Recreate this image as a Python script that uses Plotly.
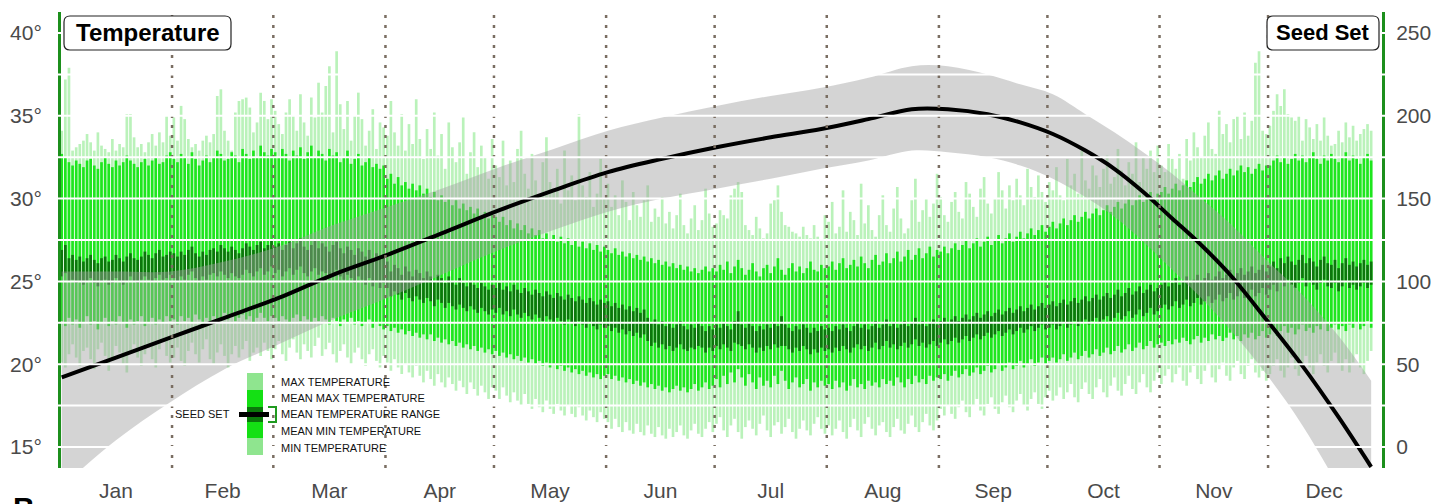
import plotly.graph_objects as go

# ---------------- data ----------------
month_names = ["Jan", "Feb", "Mar", "Apr", "May", "Jun", "Jul", "Aug", "Sep", "Oct", "Nov", "Dec"]
month_days = [31, 28, 31, 30, 31, 30, 31, 31, 30, 31, 30, 31]

# daily maximum temperature (deg C), one list per month (data stop a couple of days before year end)
tmax = [
    [34.1, 37.2, 37.9, 32.9, 33.1, 33.3, 33.5, 33.9, 33.4, 32.9, 34.0, 33.2, 33.0, 32.8, 33.6, 32.9, 33.3, 33.1, 35.1, 35.1,
     33.7, 33.1, 33.3, 32.8, 33.4, 33.9, 33.2, 34.0, 33.4, 35.0, 33.8],
    [34.9, 33.5, 35.6, 34.8, 33.6, 33.1, 33.3, 32.9, 33.5, 33.8, 33.4, 33.9, 36.2, 36.6, 34.1, 33.5, 32.9, 35.2, 35.9, 36.0,
     36.1, 35.5, 34.0, 34.6, 36.4, 35.9, 34.8, 36.0],
    [35.3, 34.5, 33.9, 35.2, 36.0, 35.0, 34.1, 36.3, 34.6, 33.8, 36.1, 34.9, 37.0, 35.2, 36.8, 38.0, 34.0, 38.9, 35.7, 34.2,
     35.9, 33.5, 35.0, 36.4, 34.8, 33.2, 34.1, 35.4, 33.0, 34.6, 34.3],
    [33.8, 35.9, 34.0, 33.2, 35.1, 32.9, 34.5, 33.3, 36.0, 33.6, 32.4, 34.2, 33.0, 35.2, 32.6, 33.9, 31.8, 34.6, 33.1, 32.2,
     33.4, 34.9, 31.5, 32.8, 34.0, 31.9, 33.2, 32.5, 31.2, 33.6],
    [32.0, 31.3, 33.5, 30.8, 32.3, 31.0, 33.0, 34.1, 31.5, 30.6, 32.7, 31.1, 30.2, 32.2, 33.7, 31.0, 30.4, 31.8, 29.7, 32.9,
     30.5, 31.4, 29.9, 35.1, 30.8, 30.1, 31.6, 29.5, 30.3, 32.4, 30.0],
    [30.9, 29.5, 30.2, 29.0, 31.1, 29.8, 28.7, 30.4, 29.6, 28.9, 29.9, 30.8, 28.6, 29.4, 28.9, 30.1, 28.5, 29.2, 28.2, 29.0,
     30.3, 28.4, 27.9, 28.8, 29.6, 28.1, 28.7, 30.6, 29.1, 28.3],
    [28.5, 29.3, 29.0, 28.8, 30.2, 30.6, 31.0, 30.4, 28.4, 28.1, 27.8, 28.9, 28.2, 27.6, 27.9, 29.7, 29.9, 30.8, 29.2, 28.4,
     28.3, 28.0, 27.9, 27.7, 28.3, 27.8, 27.6, 28.4, 27.7, 27.5, 29.0],
    [28.6, 29.8, 27.9, 28.3, 30.5, 28.0, 29.2, 28.7, 27.8, 30.9, 28.5, 29.6, 28.1, 27.7, 29.0, 30.2, 28.4, 28.0, 29.4, 30.7,
     28.8, 27.9, 28.2, 29.9, 31.2, 28.6, 29.3, 30.0, 28.9, 29.7, 31.5],
    [30.1, 29.0, 28.6, 29.8, 30.4, 29.2, 28.8, 31.0, 30.3, 29.5, 28.9, 30.6, 31.3, 29.7, 29.1, 30.0, 31.6, 30.5, 29.4, 30.8,
     29.9, 31.2, 30.2, 29.6, 31.8, 30.7, 30.1, 31.4, 30.4, 29.8],
    [31.0, 30.5, 31.9, 30.2, 29.9, 32.4, 30.8, 31.5, 30.3, 32.9, 31.1, 30.6, 32.0, 31.4, 30.7, 31.8, 32.6, 30.9, 31.3, 33.0,
     31.7, 30.8, 32.2, 31.5, 33.4, 31.0, 32.5, 31.8, 32.9, 31.6, 33.2],
    [32.0, 31.6, 33.3, 32.4, 31.8, 32.7, 31.2, 33.6, 32.3, 34.0, 33.1, 32.5, 33.8, 34.6, 33.0, 32.7, 35.3, 33.9, 34.5, 33.4,
     34.8, 35.0, 33.6, 35.2, 33.8, 34.7, 38.2, 38.9, 34.1, 33.9],
    [34.4, 35.3, 36.3, 35.6, 36.6, 35.1, 34.9, 34.7, 35.0, 33.5, 34.8, 34.3, 33.6, 34.5, 33.5, 34.9, 33.8, 33.2, 33.3, 34.1,
     33.4, 34.6, 33.7, 34.4, 33.5, 33.9, 34.2, 34.5, 34.1],
]

# mean maximum temperature
mean_max = [
    [32.7, 32.5, 32.2, 32.0, 32.3, 32.1, 31.9, 32.3, 32.4, 32.0, 31.8, 32.2, 32.5, 32.1, 31.9, 32.3, 32.0, 32.2, 32.6, 32.3,
     32.1, 31.9, 32.2, 32.4, 32.0, 32.3, 32.5, 32.1, 32.2, 32.6, 32.8],
    [32.4, 32.2, 32.7, 32.5, 32.1, 32.8, 32.4, 32.0, 32.3, 32.6, 32.2, 32.5, 32.9, 32.7, 32.3, 32.4, 32.8, 32.6, 32.2, 33.0,
     32.7, 32.4, 32.9, 32.5, 33.2, 32.8, 32.6, 33.0],
    [32.8, 32.5, 33.0, 32.7, 32.3, 32.9, 32.6, 33.1, 32.4, 32.8, 33.2, 32.5, 32.9, 32.7, 32.3, 33.0, 32.6, 32.8, 32.2, 32.5,
     32.9, 32.1, 32.4, 32.7, 32.0, 32.2, 32.5, 31.9, 32.1, 31.8, 32.0],
    [31.2, 31.5, 30.9, 31.3, 30.8, 31.0, 30.6, 30.9, 30.5, 30.8, 30.3, 30.6, 30.1, 30.4, 29.9, 30.2, 29.8, 30.0, 29.6, 29.9,
     29.4, 29.7, 29.3, 29.5, 29.1, 29.4, 28.9, 29.2, 28.8, 29.0],
    [28.9, 28.6, 28.9, 28.4, 28.7, 28.2, 28.5, 28.1, 28.4, 27.9, 28.2, 27.8, 28.1, 27.6, 27.9, 27.5, 27.8, 27.4, 27.7, 27.3,
     27.6, 27.2, 27.5, 27.1, 27.4, 27.0, 27.3, 26.9, 27.2, 26.8, 27.1],
    [26.9, 26.7, 27.0, 26.6, 26.8, 26.5, 26.7, 26.4, 26.6, 26.3, 26.5, 26.2, 26.4, 26.1, 26.3, 26.0, 26.2, 25.9, 26.1, 25.8,
     26.0, 25.7, 25.9, 25.6, 25.8, 25.5, 25.7, 25.9, 25.6, 25.8],
    [25.6, 26.0, 25.7, 26.2, 25.5, 25.9, 26.3, 25.8, 25.4, 25.7, 26.1, 25.6, 25.3, 25.8, 26.0, 25.5, 25.9, 26.4, 25.7, 25.4,
     25.8, 26.1, 25.6, 25.9, 25.5, 25.8, 26.2, 25.7, 25.6, 26.0, 25.8],
    [25.9, 26.2, 25.7, 26.1, 26.4, 25.8, 26.0, 26.3, 25.9, 26.5, 26.1, 25.8, 26.3, 26.6, 26.0, 26.2, 26.7, 26.1, 26.4, 26.8,
     26.2, 26.5, 26.9, 26.3, 26.6, 27.0, 26.4, 26.7, 27.1, 26.5, 26.9],
    [26.8, 27.1, 26.7, 27.0, 27.3, 26.9, 27.2, 27.5, 27.0, 27.3, 27.6, 27.1, 27.4, 27.7, 27.2, 27.5, 27.8, 27.3, 27.6, 27.9,
     27.4, 27.7, 28.0, 27.6, 27.9, 28.2, 27.8, 28.1, 28.4, 28.0],
    [28.3, 28.6, 28.2, 28.5, 28.8, 28.4, 28.7, 29.0, 28.6, 28.9, 29.2, 28.8, 29.1, 29.4, 29.0, 29.3, 29.6, 29.2, 29.5, 29.8,
     29.4, 29.7, 30.0, 29.6, 29.9, 30.2, 29.8, 30.1, 30.4, 30.0, 30.3],
    [30.4, 30.7, 30.3, 30.6, 30.9, 30.5, 30.8, 31.1, 30.7, 31.0, 31.3, 30.9, 31.2, 31.5, 31.1, 31.4, 31.7, 31.2, 31.5, 31.8,
     31.4, 31.7, 32.0, 31.6, 31.9, 31.5, 31.8, 32.1, 31.7, 32.0],
    [32.0, 32.3, 32.6, 32.2, 32.5, 32.1, 32.4, 32.7, 32.3, 32.6, 32.2, 32.5, 32.8, 32.4, 32.1, 32.6, 32.3, 32.7, 32.4, 32.2,
     32.5, 32.8, 32.3, 32.6, 32.4, 32.1, 32.5, 32.7, 32.3],
]

# mean temperature range: upper and lower limit
range_hi = [
    [26.9, 27.2, 26.4, 26.6, 26.3, 26.5, 26.2, 26.4, 26.6, 26.3, 26.1, 26.4, 26.5, 26.2, 26.3, 26.6, 26.4, 26.2, 26.5, 26.7,
     26.4, 26.3, 26.5, 26.8, 26.6, 26.4, 26.7, 26.9, 26.5, 26.6, 26.8],
    [26.7, 26.5, 26.8, 26.6, 26.9, 27.1, 26.7, 26.5, 26.8, 26.6, 26.9, 27.0, 26.8, 27.2, 27.0, 26.8, 27.1, 26.9, 26.7, 27.0,
     27.3, 27.1, 26.9, 27.2, 27.4, 27.0, 27.2, 27.5],
    [27.1, 27.3, 26.9, 27.2, 27.4, 27.0, 27.3, 27.6, 27.1, 26.9, 27.2, 27.5, 27.0, 27.3, 27.1, 26.8, 27.2, 27.4, 27.0, 26.7,
     27.1, 26.9, 26.6, 27.0, 26.8, 26.5, 26.9, 26.4, 26.7, 26.3, 26.6],
    [26.2, 25.6, 26.0, 25.8, 25.4, 25.9, 25.6, 25.3, 25.7, 25.5, 25.2, 25.6, 25.3, 25.0, 25.4, 25.2, 24.9, 25.3, 25.0, 24.8,
     25.2, 24.9, 24.7, 25.0, 24.8, 24.6, 24.9, 24.7, 24.5, 24.8],
    [24.6, 24.9, 24.5, 24.7, 24.4, 24.8, 24.5, 24.3, 24.6, 24.4, 24.2, 24.5, 24.3, 24.1, 24.4, 24.2, 24.0, 24.3, 24.1, 23.9,
     24.2, 24.0, 23.8, 24.1, 23.9, 23.7, 24.0, 23.8, 23.6, 23.9, 23.7],
    [23.8, 23.5, 23.7, 23.4, 23.6, 23.3, 23.5, 23.2, 23.4, 23.1, 23.3, 22.8, 22.5, 22.7, 22.4, 22.6, 22.3, 22.5, 22.2, 22.4,
     22.6, 22.3, 22.1, 22.4, 22.2, 22.5, 22.3, 22.0, 22.3, 22.1],
    [22.4, 22.2, 22.5, 22.3, 22.1, 22.6, 23.2, 22.4, 22.2, 22.5, 22.3, 22.0, 22.3, 22.1, 22.4, 22.2, 22.5, 22.3, 22.9, 22.4,
     22.2, 22.0, 22.3, 22.1, 22.4, 22.2, 21.9, 22.2, 22.0, 22.3, 22.1],
    [22.2, 22.0, 22.3, 22.1, 22.4, 22.2, 22.0, 22.3, 22.5, 22.2, 22.4, 22.1, 22.3, 22.6, 22.2, 22.4, 22.7, 22.3, 22.5, 22.2,
     22.4, 22.6, 22.3, 22.5, 22.8, 22.4, 22.6, 22.3, 22.5, 22.7, 22.4],
    [22.6, 22.8, 22.5, 22.7, 22.9, 22.6, 22.8, 23.0, 22.7, 22.9, 23.1, 22.8, 23.0, 23.2, 22.9, 23.1, 23.3, 23.0, 23.2, 23.4,
     23.1, 23.3, 23.5, 23.2, 23.4, 23.6, 23.3, 23.5, 23.7, 23.4],
    [23.6, 23.8, 23.5, 23.7, 23.9, 23.6, 23.8, 24.0, 23.7, 23.9, 24.1, 23.8, 24.0, 24.2, 23.9, 24.1, 24.3, 24.0, 24.2, 24.5,
     24.1, 24.3, 24.6, 24.2, 24.4, 24.7, 24.3, 24.5, 24.8, 24.4, 24.6],
    [24.8, 25.0, 24.7, 24.9, 25.2, 24.8, 25.0, 25.3, 24.9, 25.1, 25.4, 25.0, 25.2, 25.5, 25.1, 25.3, 25.6, 25.2, 25.4, 25.7,
     25.3, 25.5, 25.8, 25.4, 25.6, 25.9, 25.5, 25.7, 26.0, 25.6],
    [25.9, 26.2, 25.8, 26.4, 26.1, 26.5, 26.2, 26.0, 26.3, 26.6, 26.1, 26.4, 26.2, 25.9, 26.3, 26.5, 26.1, 26.0, 26.3, 25.8,
     26.1, 26.4, 26.0, 26.2, 25.9, 26.1, 26.3, 26.0, 26.2],
]
range_lo = [
    [25.3, 25.5, 25.0, 25.1, 24.9, 25.0, 24.8, 25.0, 25.2, 24.9, 24.7, 25.0, 25.1, 24.8, 24.9, 25.2, 25.0, 24.8, 25.0, 25.3,
     25.0, 24.9, 25.1, 25.3, 25.1, 25.0, 25.2, 25.4, 25.1, 25.2, 25.4],
    [25.2, 25.0, 25.3, 25.1, 25.4, 25.6, 25.2, 25.0, 25.3, 25.1, 25.4, 25.5, 25.3, 25.6, 25.4, 25.2, 25.5, 25.3, 25.2, 25.4,
     25.7, 25.5, 25.3, 25.6, 25.8, 25.4, 25.6, 25.9],
    [25.5, 25.7, 25.3, 25.6, 25.8, 25.4, 25.7, 25.9, 25.5, 25.3, 25.6, 25.8, 25.4, 25.6, 25.5, 25.2, 25.5, 25.7, 25.3, 25.1,
     25.4, 25.2, 24.9, 25.3, 25.1, 24.8, 25.2, 24.7, 25.0, 24.6, 24.9],
    [24.6, 24.1, 24.4, 24.2, 23.9, 24.3, 24.0, 23.8, 24.1, 23.9, 23.7, 24.0, 23.8, 23.5, 23.9, 23.7, 23.4, 23.7, 23.5, 23.3,
     23.6, 23.4, 23.2, 23.5, 23.3, 23.1, 23.4, 23.2, 23.0, 23.3],
    [23.1, 23.4, 23.0, 23.2, 22.9, 23.3, 23.0, 22.8, 23.1, 22.9, 22.7, 23.0, 22.8, 22.6, 22.9, 22.7, 22.5, 22.8, 22.6, 22.4,
     22.7, 22.5, 22.3, 22.6, 22.4, 22.2, 22.5, 22.3, 22.1, 22.4, 22.2],
    [22.3, 22.0, 22.2, 21.9, 22.1, 21.8, 22.0, 21.7, 21.9, 21.6, 21.8, 21.4, 21.1, 21.3, 21.0, 21.2, 20.9, 21.1, 20.8, 21.0,
     21.2, 20.9, 20.8, 21.0, 20.9, 21.1, 21.0, 20.7, 21.0, 20.8],
    [21.1, 20.9, 21.2, 21.0, 20.8, 21.3, 21.2, 21.1, 20.9, 21.2, 21.0, 20.7, 21.0, 20.8, 21.1, 20.9, 21.2, 21.0, 21.1, 21.1,
     20.9, 20.7, 21.0, 20.8, 21.1, 20.9, 20.6, 20.9, 20.7, 21.0, 20.8],
    [20.9, 20.7, 21.0, 20.8, 21.1, 20.9, 20.7, 21.0, 21.2, 20.9, 21.1, 20.8, 21.0, 21.3, 20.9, 21.1, 21.4, 21.0, 21.2, 20.9,
     21.1, 21.3, 21.0, 21.2, 21.5, 21.1, 21.3, 21.0, 21.2, 21.4, 21.1],
    [21.3, 21.5, 21.2, 21.4, 21.6, 21.3, 21.5, 21.7, 21.4, 21.6, 21.8, 21.5, 21.7, 21.9, 21.6, 21.8, 22.0, 21.7, 21.9, 22.1,
     21.8, 22.0, 22.2, 21.9, 22.1, 22.3, 22.0, 22.2, 22.4, 22.1],
    [22.2, 22.4, 22.1, 22.3, 22.5, 22.2, 22.4, 22.6, 22.3, 22.5, 22.7, 22.4, 22.6, 22.8, 22.5, 22.7, 22.9, 22.6, 22.8, 23.1,
     22.7, 22.9, 23.2, 22.8, 23.0, 23.3, 22.9, 23.1, 23.4, 23.0, 23.2],
    [23.4, 23.6, 23.3, 23.5, 23.8, 23.4, 23.6, 23.9, 23.5, 23.7, 24.0, 23.6, 23.8, 24.1, 23.7, 23.9, 24.2, 23.8, 24.0, 24.3,
     23.9, 24.1, 24.4, 24.0, 24.2, 24.5, 24.1, 24.3, 24.6, 24.2],
    [24.5, 24.8, 24.4, 25.0, 24.7, 25.1, 24.8, 24.6, 24.9, 25.2, 24.7, 25.0, 24.8, 24.5, 24.9, 25.1, 24.7, 24.6, 24.9, 24.4,
     24.7, 25.0, 24.6, 24.8, 24.5, 24.7, 24.9, 24.6, 24.8],
]

# mean minimum temperature
mean_min = [
    [22.6, 22.3, 22.8, 22.4, 22.7, 22.2, 22.5, 22.9, 22.4, 22.6, 22.1, 22.5, 22.8, 22.3, 22.6, 22.4, 22.9, 22.5, 22.2, 22.7,
     22.4, 22.6, 22.9, 22.3, 22.5, 22.8, 22.4, 22.7, 22.5, 22.9, 22.6],
    [22.7, 22.4, 22.9, 22.6, 22.8, 22.5, 23.0, 22.7, 22.4, 22.8, 22.6, 22.9, 22.5, 22.8, 23.1, 22.7, 22.9, 22.6, 22.8, 23.0,
     22.7, 22.9, 22.5, 22.8, 23.1, 22.8, 22.6, 22.9],
    [22.8, 22.6, 22.9, 22.7, 22.5, 22.8, 23.0, 22.6, 22.9, 22.7, 22.5, 22.8, 22.6, 22.9, 22.7, 22.4, 22.8, 22.6, 22.3, 22.7,
     22.5, 22.8, 22.4, 22.6, 22.3, 22.5, 22.7, 22.2, 22.5, 22.3, 22.1],
    [22.3, 22.0, 22.2, 21.9, 22.1, 21.8, 22.0, 21.7, 21.9, 21.6, 21.8, 21.5, 21.8, 21.4, 21.6, 21.3, 21.5, 21.2, 21.4, 21.1,
     21.3, 21.0, 21.2, 20.9, 21.1, 20.8, 21.0, 20.7, 20.9, 20.6],
    [20.8, 20.5, 20.7, 20.4, 20.6, 20.3, 20.5, 20.2, 20.4, 20.1, 20.3, 20.0, 20.2, 19.9, 20.1, 19.8, 20.0, 19.7, 19.9, 19.6,
     19.8, 19.5, 19.7, 19.4, 19.6, 19.3, 19.5, 19.2, 19.4, 19.1, 19.3],
    [19.4, 19.1, 19.3, 19.0, 19.2, 18.9, 19.1, 18.8, 19.0, 18.7, 18.9, 18.6, 18.8, 18.5, 18.7, 18.4, 18.6, 18.3, 18.5, 18.7,
     18.4, 18.6, 18.3, 18.5, 18.8, 18.4, 18.6, 18.9, 18.5, 18.7],
    [19.1, 18.6, 19.3, 18.8, 19.5, 18.9, 19.7, 19.2, 18.7, 19.4, 18.9, 18.5, 19.2, 18.7, 19.0, 18.6, 19.3, 18.8, 19.6, 19.0,
     18.5, 18.9, 19.2, 18.6, 18.8, 19.1, 18.4, 18.9, 18.6, 19.0, 18.7],
    [18.8, 18.5, 19.0, 18.6, 18.9, 18.4, 18.7, 19.1, 18.6, 18.8, 18.5, 19.0, 18.7, 18.9, 18.6, 19.1, 18.8, 19.0, 18.7, 19.2,
     18.9, 18.6, 19.1, 18.8, 19.3, 18.9, 19.1, 18.8, 19.3, 19.0, 19.2],
    [19.1, 19.4, 19.0, 19.3, 19.6, 19.2, 19.4, 19.7, 19.3, 19.5, 19.8, 19.4, 19.6, 19.9, 19.5, 19.7, 20.0, 19.6, 19.8, 20.1,
     19.7, 19.9, 20.2, 19.8, 20.0, 20.3, 19.9, 20.1, 20.4, 20.0],
    [20.2, 20.4, 20.1, 20.3, 20.6, 20.2, 20.4, 20.7, 20.3, 20.5, 20.8, 20.4, 20.6, 20.9, 20.5, 20.7, 21.0, 20.6, 20.8, 21.1,
     20.7, 20.9, 21.2, 20.8, 21.0, 21.3, 20.9, 21.1, 21.4, 21.0, 21.2],
    [21.3, 21.1, 21.4, 21.2, 21.5, 21.3, 21.6, 21.4, 21.2, 21.5, 21.7, 21.3, 21.6, 21.4, 21.8, 21.5, 21.7, 21.4, 21.6, 21.9,
     21.5, 21.7, 21.4, 21.8, 21.6, 21.9, 21.5, 21.7, 22.0, 21.6],
    [21.8, 22.1, 21.7, 22.0, 22.3, 21.9, 22.2, 21.8, 22.1, 22.4, 22.0, 22.2, 21.9, 22.3, 22.1, 22.5, 22.0, 22.2, 22.4, 22.1,
     22.3, 22.0, 22.4, 22.2, 22.5, 22.1, 22.3, 22.6, 22.2],
]

# daily minimum temperature
tmin = [
    [20.1, 19.8, 20.6, 21.2, 20.4, 19.9, 20.8, 21.0, 20.3, 19.7, 20.9, 21.3, 20.5, 19.6, 20.2, 21.1, 20.7, 20.0, 19.5, 20.8,
     21.2, 20.4, 19.9, 20.6, 21.0, 20.3, 19.8, 20.9, 21.4, 20.5, 20.1],
    [20.4, 21.0, 20.2, 19.9, 20.8, 21.3, 20.6, 20.1, 20.9, 21.5, 20.3, 20.0, 20.7, 21.2, 20.5, 19.8, 20.6, 21.1, 20.4, 20.9,
     21.4, 20.2, 20.7, 21.0, 20.5, 21.3, 20.8, 20.3],
    [20.9, 21.4, 20.6, 20.2, 21.0, 21.5, 20.7, 20.3, 21.2, 20.8, 20.4, 21.1, 21.6, 20.5, 20.9, 21.3, 20.6, 20.1, 20.8, 21.2,
     20.4, 20.0, 20.7, 21.0, 20.3, 19.9, 20.6, 20.9, 20.2, 19.8, 20.5],
    [20.1, 19.6, 20.3, 19.8, 19.4, 20.0, 19.5, 19.2, 19.9, 19.3, 18.9, 19.6, 19.1, 18.7, 19.4, 18.9, 18.6, 19.2, 18.8, 18.4,
     19.0, 18.6, 18.2, 18.9, 18.5, 18.1, 18.7, 18.3, 17.9, 18.6],
    [18.4, 17.9, 18.6, 18.1, 17.7, 18.3, 17.8, 17.5, 18.2, 17.6, 17.3, 17.9, 17.4, 17.1, 17.8, 17.3, 17.0, 17.6, 17.2, 16.9,
     17.5, 17.0, 16.8, 17.4, 16.9, 16.6, 17.2, 16.8, 16.5, 17.1, 16.7],
    [16.5, 16.1, 16.7, 16.2, 15.9, 16.5, 16.0, 15.8, 16.4, 15.9, 15.7, 16.3, 15.8, 15.6, 16.2, 15.7, 15.5, 16.1, 15.6, 15.9,
     16.3, 15.7, 15.5, 16.0, 16.4, 15.8, 15.6, 16.1, 16.5, 15.9],
    [16.4, 16.8, 16.0, 15.6, 16.3, 16.7, 15.9, 15.5, 16.2, 16.6, 16.1, 15.7, 16.4, 16.9, 16.0, 15.6, 16.3, 16.5, 15.8, 16.2,
     16.7, 15.9, 15.5, 16.1, 16.6, 16.0, 15.7, 16.4, 16.8, 16.1, 15.8],
    [16.3, 15.7, 16.1, 16.6, 15.9, 15.5, 16.2, 16.7, 16.0, 15.6, 16.4, 16.8, 16.1, 15.7, 16.3, 16.5, 15.9, 15.6, 16.2, 16.7,
     16.0, 15.8, 16.4, 16.9, 16.2, 15.9, 16.5, 17.0, 16.3, 16.0, 16.6],
    [17.3, 16.9, 17.5, 17.0, 16.7, 17.4, 17.8, 17.1, 16.8, 17.5, 17.9, 17.2, 16.9, 17.6, 18.0, 17.3, 17.0, 17.7, 18.1, 17.4,
     17.1, 17.8, 18.2, 17.5, 17.2, 17.9, 18.3, 17.6, 17.3, 18.0],
    [18.4, 17.8, 18.1, 18.6, 17.9, 18.3, 18.8, 18.0, 17.7, 18.5, 18.9, 18.2, 17.9, 18.6, 19.1, 18.3, 18.0, 18.7, 19.2, 18.4,
     18.1, 18.8, 19.3, 18.5, 18.2, 18.9, 19.4, 18.6, 18.3, 19.0, 19.5],
    [18.8, 19.3, 19.7, 18.9, 19.4, 19.8, 19.0, 18.7, 19.5, 19.9, 19.1, 18.8, 19.6, 20.0, 19.2, 18.9, 19.7, 20.1, 19.3, 19.0,
     19.8, 20.2, 19.4, 19.1, 19.9, 20.3, 19.5, 19.2, 19.6, 19.0],
    [19.4, 19.9, 20.3, 19.6, 19.2, 19.8, 20.4, 19.7, 19.3, 20.0, 20.5, 19.8, 19.4, 20.1, 20.6, 19.9, 19.5, 20.2, 20.7, 20.0,
     19.6, 20.3, 19.5, 20.1, 20.6, 19.8, 19.4, 20.2, 20.8],
]

# seed set (right axis): fitted curve and its band, at day-of-year positions
seed_day = [1, 16, 31, 46, 61, 76, 91, 106, 122, 137, 152, 167, 182, 197, 211, 224, 236, 246, 257, 266,
            275, 284, 292, 300, 308, 316, 324, 334, 344, 354, 363]
seed_mean = [42, 54, 66, 78, 90, 104, 116, 129, 143, 155, 166, 174, 181, 187, 192, 198, 204, 204, 201, 196,
             189, 179, 168, 154, 138, 122, 104, 77, 49, 18, -12]
seed_lower = [-24, 4, 27, 47, 62, 77, 90, 104, 119, 131, 142, 150, 156, 162, 168, 173, 179, 178, 175, 170,
              162, 151, 139, 124, 107, 90, 71, 44, 13, -24, -60]
seed_upper = [106, 106, 106, 112, 121, 134, 145, 156, 169, 180, 191, 199, 206, 212, 217, 223, 230, 230, 225, 219,
              213, 201, 190, 178, 165, 150, 135, 113, 92, 67, 40]

temp_ticks = [15, 20, 25, 30, 35, 40]
seed_ticks = [0, 50, 100, 150, 200, 250]

legend_labels = ["MAX TEMPERATURE", "MEAN MAX TEMPERATURE", "MEAN TEMPERATURE RANGE",
                 "MEAN MIN TEMPERATURE", "MIN TEMPERATURE"]

# ---------------- helpers ----------------
month_start = [1]
for n in month_days[:-1]:
    month_start.append(month_start[-1] + n)


def bar_series(top, bottom):
    xs, ys, bs = [], [], []
    for m in range(12):
        for i, (t, b) in enumerate(zip(top[m], bottom[m])):
            xs.append(month_start[m] + i)
            ys.append(round(t - b, 2))
            bs.append(b)
    return xs, ys, bs


W, H = 1449, 504
ML, MR, MT, MB = 61, 67, 12, 36
PW, PH = W - ML - MR, H - MT - MB


def X(px):
    return (px - ML) / PW


def Y(py):
    return (H - MB - py) / PH


PALE = "#baf2ba"
BRIGHT = "#1ee61e"
DARK = "#0c760c"
AXIS_GREEN = "#1c8f1c"
FONT = "Liberation Sans, Arial, Helvetica, sans-serif"

fig = go.Figure()

for top, bottom, col in [(tmax, tmin, PALE), (mean_max, mean_min, BRIGHT), (range_hi, range_lo, DARK)]:
    xs, ys, bs = bar_series(top, bottom)
    fig.add_trace(go.Bar(x=xs, y=ys, base=bs, width=0.74, marker=dict(color=col, line=dict(width=0)),
                         yaxis="y", hoverinfo="skip", showlegend=False))

fig.add_trace(go.Scatter(x=seed_day, y=seed_lower, yaxis="y2", mode="lines",
                         line=dict(width=0, shape="spline", smoothing=1.0), hoverinfo="skip", showlegend=False))
fig.add_trace(go.Scatter(x=seed_day, y=seed_upper, yaxis="y2", mode="lines", fill="tonexty",
                         fillcolor="rgba(160,160,160,0.45)",
                         line=dict(width=0, shape="spline", smoothing=1.0), hoverinfo="skip", showlegend=False))
fig.add_trace(go.Scatter(x=seed_day, y=seed_mean, yaxis="y2", mode="lines",
                         line=dict(color="black", width=4, shape="spline", smoothing=1.0),
                         hoverinfo="skip", showlegend=False))

t_lo, t_hi = 13.73, 41.27
fig.update_layout(
    width=W, height=H,
    margin=dict(l=ML, r=MR, t=MT, b=MB, autoexpand=False),
    plot_bgcolor="white", paper_bgcolor="white",
    barmode="overlay", showlegend=False,
    font=dict(family=FONT, color="#4a4a4a"),
    xaxis=dict(range=[0.8, 366.0], showgrid=False, zeroline=False, showline=False, automargin=False,
               tickvals=[month_start[m] + month_days[m] / 2 - 0.5 for m in range(12)],
               ticktext=month_names, ticks="", tickfont=dict(size=21, color="#4a4a4a"),
               ticklabelstandoff=8),
    yaxis=dict(range=[t_lo, t_hi], showgrid=False, zeroline=False, showline=True, automargin=False,
               linecolor=AXIS_GREEN, linewidth=3, tickvals=temp_ticks,
               ticktext=[f"{v}°" for v in temp_ticks], ticks="",
               tickfont=dict(size=21, color="#4a4a4a"), ticklabelstandoff=12),
    yaxis2=dict(range=[10 * (t_lo - 15), 10 * (t_hi - 15)], overlaying="y", side="right", automargin=False,
                showgrid=False, zeroline=False, showline=True, linecolor=AXIS_GREEN, linewidth=3,
                tickvals=seed_ticks, ticks="", tickfont=dict(size=21, color="#4a4a4a"),
                ticklabelstandoff=7),
)

shapes = []
# month separators
for m in range(1, 12):
    xb = month_start[m] - 0.5
    shapes.append(dict(type="line", xref="x", yref="paper", x0=xb, x1=xb, y0=0, y1=1, layer="above",
                       line=dict(color="#7a6e62", width=2.5, dash="3px,7px")))
# white grid lines over everything
g = 15.0
while g <= 40.01:
    shapes.append(dict(type="line", xref="paper", yref="y", x0=-0.004, x1=1.004, y0=g, y1=g, layer="above",
                       line=dict(color="white", width=2)))
    g += 2.5


def rrect(x0, y0, x1, y1, r):
    return (f"M {X(x0 + r)},{Y(y0)} L {X(x1 - r)},{Y(y0)} Q {X(x1)},{Y(y0)} {X(x1)},{Y(y0 + r)} "
            f"L {X(x1)},{Y(y1 - r)} Q {X(x1)},{Y(y1)} {X(x1 - r)},{Y(y1)} "
            f"L {X(x0 + r)},{Y(y1)} Q {X(x0)},{Y(y1)} {X(x0)},{Y(y1 - r)} "
            f"L {X(x0)},{Y(y0 + r)} Q {X(x0)},{Y(y0)} {X(x0 + r)},{Y(y0)} Z")


for (bx0, bx1) in [(64, 231), (1267, 1379)]:
    shapes.append(dict(type="path", xref="paper", yref="paper", path=rrect(bx0, 16, bx1, 50, 6),
                       fillcolor="white", line=dict(color="#222222", width=1.2), layer="above"))

# legend glyph
legend_blocks = [(373, 390, "#8fe58f"), (390, 407, "#14e014"), (407, 422, "#0b780b"),
                 (422, 438, "#14e014"), (438, 455, "#8fe58f")]
for (ya, yb, col) in legend_blocks:
    shapes.append(dict(type="rect", xref="paper", yref="paper", x0=X(247), x1=X(263), y0=Y(yb), y1=Y(ya),
                       fillcolor=col, line=dict(width=0), layer="above"))
shapes.append(dict(type="line", xref="paper", yref="paper", x0=X(239), x1=X(269), y0=Y(414.5), y1=Y(414.5),
                   line=dict(color="black", width=5), layer="above"))
shapes.append(dict(type="path", xref="paper", yref="paper",
                   path=f"M {X(268)},{Y(407)} L {X(276)},{Y(407)} L {X(276)},{Y(422)} L {X(268)},{Y(422)}",
                   line=dict(color="#1f9a1f", width=2), layer="above"))
fig.update_layout(shapes=shapes)

ann = []
ann.append(dict(text="<b>Temperature</b>", x=X(147.5), y=Y(33), xref="paper", yref="paper",
                xanchor="center", yanchor="middle", showarrow=False, font=dict(size=24, color="black", family=FONT)))
ann.append(dict(text="<b>Seed Set</b>", x=X(1323), y=Y(33), xref="paper", yref="paper",
                xanchor="center", yanchor="middle", showarrow=False, font=dict(size=22, color="black", family=FONT)))
label_y = [382, 398, 414, 431, 448]
for lab, ly in zip(legend_labels, label_y):
    ann.append(dict(text=lab, x=X(279), y=Y(ly), xref="paper", yref="paper", xanchor="left", yanchor="middle",
                    showarrow=False, font=dict(size=11, color="#111111", family=FONT)))
ann.append(dict(text="SEED SET", x=X(232), y=Y(414), xref="paper", yref="paper", xanchor="right",
                yanchor="middle", showarrow=False, font=dict(size=11, color="#111111", family=FONT)))
ann.append(dict(text="<b>B</b>", x=X(11), y=Y(489), xref="paper", yref="paper", xanchor="left", yanchor="top",
                showarrow=False, font=dict(size=30, color="black", family=FONT)))
fig.update_layout(annotations=ann)

fig.write_html("out.html", config={"displayModeBar": False},
               post_script="document.body.style.margin='0';document.body.style.overflow='hidden';")
